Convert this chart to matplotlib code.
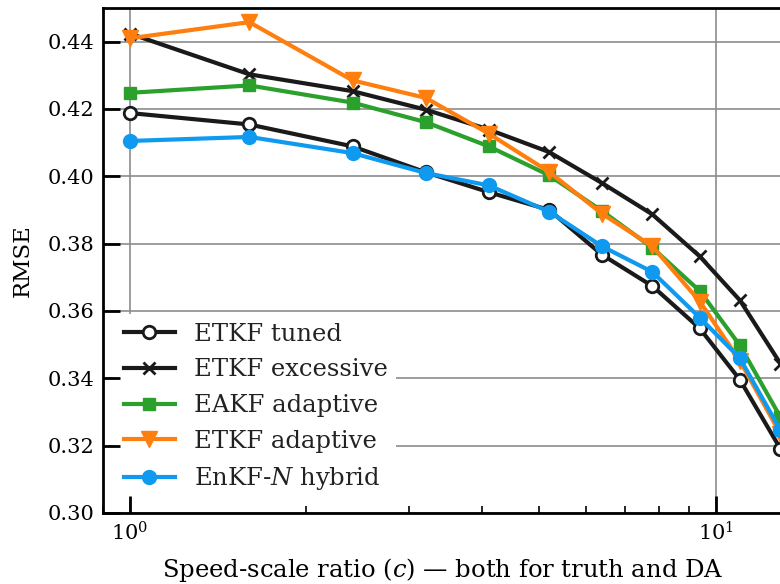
import matplotlib
matplotlib.use("Agg")
import matplotlib.pyplot as plt
from matplotlib.ticker import LogLocator, NullFormatter

plt.rcParams["font.family"] = ["DejaVu Serif"]
plt.rcParams["mathtext.fontset"] = "dejavuserif"

# --- data ---
speed_ratio = [1.0, 1.6, 2.4, 3.2, 4.1, 5.2, 6.4, 7.8, 9.4, 11.0, 12.9]

etkf_tuned = [0.4188, 0.4154, 0.4089, 0.4012, 0.3953, 0.3900, 0.3767, 0.3674, 0.3548, 0.3396, 0.3191]
etkf_excessive = [0.4424, 0.4303, 0.4253, 0.4198, 0.4139, 0.4072, 0.3980, 0.3887, 0.3762, 0.3632, 0.3444]
eakf_adaptive = [0.4248, 0.4270, 0.4219, 0.4161, 0.4089, 0.4003, 0.3897, 0.3788, 0.3659, 0.3498, 0.3285]
etkf_adaptive = [0.4410, 0.4458, 0.4285, 0.4233, 0.4127, 0.4013, 0.3889, 0.3792, 0.3628, 0.3452, 0.3235]
enkfn_hybrid = [0.4105, 0.4117, 0.4069, 0.4010, 0.3973, 0.3895, 0.3792, 0.3716, 0.3580, 0.3460, 0.3246]

y_ticks = [0.30, 0.32, 0.34, 0.36, 0.38, 0.40, 0.42, 0.44]
x_ticks = [1, 10]

BLACK = "#1a1a1a"
GREEN = "#2ca02c"
ORANGE = "#ff7f0e"
BLUE = "#0f9af0"

fig = plt.figure(figsize=(7.8, 5.84), dpi=100)
# right spine sits just past the figure edge, like the reference crop
ax = fig.add_axes([0.132, 0.1216, 0.871, 0.8647])

lw = 3
ax.plot(speed_ratio, etkf_tuned, color=BLACK, lw=lw, marker="o", ms=9,
        mfc="white", mec=BLACK, mew=2, label="ETKF tuned", zorder=3, clip_on=False)
ax.plot(speed_ratio, etkf_excessive, color=BLACK, lw=lw, marker="x", ms=9,
        mew=2, label="ETKF excessive", zorder=3, clip_on=False)
ax.plot(speed_ratio, eakf_adaptive, color=GREEN, lw=lw, marker="s", ms=9,
        label="EAKF adaptive", zorder=3, clip_on=False)
ax.plot(speed_ratio, etkf_adaptive, color=ORANGE, lw=lw, marker="v", ms=11,
        label="ETKF adaptive", zorder=3, clip_on=False)
ax.plot(speed_ratio, enkfn_hybrid, color=BLUE, lw=lw, marker="o", ms=10,
        label="EnKF-$N$ hybrid", zorder=3, clip_on=False)

ax.set_xscale("log")
ax.set_xlim(0.9, 13.0)
ax.set_ylim(0.30, 0.45)
ax.set_yticks(y_ticks)
ax.set_yticklabels([f"{v:.2f}" for v in y_ticks])
ax.xaxis.set_minor_locator(LogLocator(base=10, subs=range(2, 10)))
ax.xaxis.set_minor_formatter(NullFormatter())

# gridlines drawn underneath so the legend can hide them but not the ticks
for v in y_ticks:
    ax.axhline(v, color="#8c8c8c", lw=1.2, zorder=0.5)
for v in x_ticks:
    ax.axvline(v, color="#8c8c8c", lw=1.2, zorder=0.5)

ax.tick_params(which="major", direction="in", length=12, width=2, labelsize=15, pad=6)
ax.tick_params(which="minor", direction="in", length=5, width=1.2)
ax.set_axisbelow(False)
for sp in ax.spines.values():
    sp.set_linewidth(2)

ax.set_xlabel("Speed-scale ratio ($c$) — both for truth and DA", fontsize=17.5, labelpad=8)
ax.set_ylabel("RMSE", fontsize=16.5, labelpad=10)

leg = ax.legend(loc="lower left", fontsize=17.5, frameon=True, fancybox=False,
                framealpha=1, edgecolor="none", handlelength=2.1,
                handletextpad=0.8, labelspacing=0.52, borderpad=0.35,
                borderaxespad=0.5)
leg.set_zorder(2.2)
for text in leg.get_texts():
    text.set_color("#222222")

fig.savefig("out.png", dpi=100)
